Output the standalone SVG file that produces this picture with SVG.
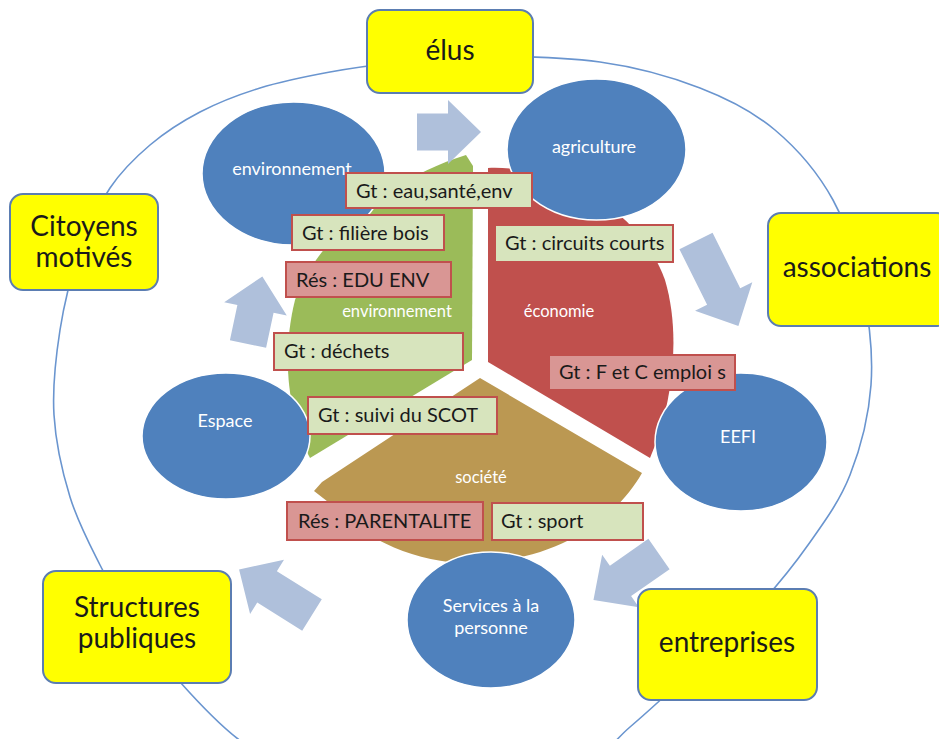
<svg xmlns="http://www.w3.org/2000/svg" width="939" height="739" viewBox="0 0 939 739">
<style>
.ring{fill:none;stroke:#6A95CF;stroke-width:1.6}
.yb{fill:#FFFF00;stroke:#5B7DB2;stroke-width:2}
.yt{font-family:Lato,'Liberation Sans',sans-serif;font-size:28px;fill:#1a1a1a;text-anchor:middle}
.el{fill:#4F81BD;stroke:#ffffff;stroke-width:1.5}
.et{font-family:Lato,'Liberation Sans',sans-serif;font-size:18px;fill:#ffffff;text-anchor:middle}
.lg{fill:#D7E4BD;stroke:#C0504D;stroke-width:2}
.lp{fill:#D99694;stroke:#C0504D;stroke-width:2}
.lt{font-family:Lato,'Liberation Sans',sans-serif;font-size:20px;fill:#1a1a1a}
.st{font-family:Lato,'Liberation Sans',sans-serif;font-size:16.5px;fill:#ffffff;text-anchor:middle}
.ar{fill:#AFC0DB}
</style>

<g id="ring">
<path class="ring" d="M470,56 C503.3,56 561.7,56.7 600,62 C638.3,67.3 670.8,76.7 700,88 C729.2,99.3 752.8,111.3 775,130 C797.2,148.7 818.3,173.3 833,200 C847.7,226.7 856.7,259.2 863,290 C869.3,320.8 873.2,354.2 871,385 C868.8,415.8 860.5,448.3 850,475 C839.5,501.7 823.8,522.5 808,545 C792.2,567.5 773.8,589.5 755,610 C736.2,630.5 715.8,648.5 695,668 C674.2,687.5 650.8,709.2 630,727 C609.2,744.8 601.7,762.8 570,775 C538.3,787.2 485,800 440,800 C395,800 333.7,785.2 300,775 C266.3,764.8 258,754.5 238,739 C218,723.5 197.7,701.8 180,682 C162.3,662.2 145.3,639.5 132,620 C118.7,600.5 110.3,585.5 100,565 C89.7,544.5 77.7,522 70,497 C62.3,472 55.7,442.8 54,415 C52.3,387.2 55.7,357.5 60,330 C64.3,302.5 71.7,273.7 80,250 C88.3,226.3 98.3,205.5 110,188 C121.7,170.5 135,157.7 150,145 C165,132.3 181.7,121.5 200,112 C218.3,102.5 238.3,94.7 260,88 C281.7,81.3 306.7,76.3 330,72 C353.3,67.7 376.7,64.7 400,62 C423.3,59.3 436.7,56 470,56 Z"/>
</g>

<g id="seg-environnement">
<path fill="#9BBB59" d="M472,360 L473,166 L466,155 C400,175 320,230 295,300 C280,360 290,420 310,458 Z"/>
<text class="st" x="397" y="317">environnement</text>
</g>
<g id="seg-economie">
<path fill="#C0504D" d="M488,362 L488,168 C560,165 640,210 665,280 C680,330 675,400 650,458 Z"/>
<text class="st" x="559" y="317">économie</text>
</g>
<g id="seg-societe">
<path fill="#BB9852" d="M480,378 L642,473 C615,520 560,558 480,563 C420,566 365,540 332,505 L314,491 L322,482 Z"/>
<text class="st" x="481" y="483">société</text>
</g>

<g id="connectors">
<path class="ar" transform="translate(417,132)" d="M0,-18.5 H31 V-32 L64,0 L31,32 V18.5 H0 Z"/>
<path class="ar" transform="translate(696,241) rotate(63.5)" d="M0,-18.5 H62 V-32 L95,0 L62,32 V18.5 H0 Z"/>
<path class="ar" transform="translate(659,554) rotate(145)" d="M0,-18.5 H47 V-32 L80,0 L47,32 V18.5 H0 Z"/>
<path class="ar" transform="translate(312,615) rotate(212)" d="M0,-18.5 H53 V-32 L86,0 L53,32 V18.5 H0 Z"/>
<path class="ar" transform="translate(248,344) rotate(-78)" d="M0,-18.5 H36 V-32 L69,0 L36,32 V18.5 H0 Z"/>
</g>

<g id="node-environnement">
<ellipse class="el" cx="293.5" cy="173.5" rx="91.5" ry="71.5"/>
<text class="et" x="292" y="175">environnement</text>
</g>
<g id="node-agriculture">
<ellipse class="el" cx="596.5" cy="149.5" rx="89.5" ry="70.5"/>
<text class="et" x="594" y="153">agriculture</text>
</g>
<g id="node-eefi">
<ellipse class="el" cx="741" cy="442" rx="86" ry="69"/>
<text class="et" x="738" y="443">EEFI</text>
</g>
<g id="node-espace">
<ellipse class="el" cx="226" cy="436" rx="84" ry="63"/>
<text class="et" x="225" y="427">Espace</text>
</g>
<g id="node-services">
<ellipse class="el" cx="491" cy="620" rx="84" ry="68"/>
<text class="et" x="491" y="612">Services à la</text>
<text class="et" x="491" y="634">personne</text>
</g>

<g id="label-eau">
<rect class="lg" x="346" y="173" width="186" height="35"/>
<text class="lt" x="356" y="197.5">Gt : eau,santé,env</text>
</g>
<g id="label-bois">
<rect class="lg" x="292" y="215" width="152" height="35"/>
<text class="lt" x="302" y="239.5">Gt : filière bois</text>
</g>
<g id="label-eduenv">
<rect class="lp" x="286" y="262" width="165" height="35"/>
<text class="lt" x="296" y="286.5">Rés : EDU ENV</text>
</g>
<g id="label-dechets">
<rect class="lg" x="274" y="333" width="189" height="37"/>
<text class="lt" x="284" y="358">Gt : déchets</text>
</g>
<g id="label-scot">
<rect class="lg" x="308" y="397" width="189" height="37"/>
<text class="lt" x="318" y="422">Gt : suivi du SCOT</text>
</g>
<g id="label-circuits">
<rect class="lg" x="495" y="225" width="178" height="37"/>
<text class="lt" x="505" y="250">Gt : circuits courts</text>
</g>
<g id="label-emploi">
<rect class="lp" x="549" y="355" width="186" height="35"/>
<text class="lt" x="559" y="379">Gt : F et C emploi s</text>
</g>
<g id="label-parentalite">
<rect class="lp" x="287" y="502" width="196" height="38"/>
<text class="lt" x="298" y="528">Rés : PARENTALITE</text>
</g>
<g id="label-sport">
<rect class="lg" x="492" y="503" width="151" height="37"/>
<text class="lt" x="501" y="528">Gt : sport</text>
</g>

<g id="box-elus">
<rect class="yb" x="367" y="10" width="166" height="83" rx="13"/>
<text class="yt" x="450" y="60">élus</text>
</g>
<g id="box-citoyens">
<rect class="yb" x="10" y="194" width="148" height="96" rx="13"/>
<text class="yt" x="84" y="236">Citoyens</text>
<text class="yt" x="84" y="267">motivés</text>
</g>
<g id="box-associations">
<rect class="yb" x="768" y="213" width="182" height="113" rx="13"/>
<text class="yt" x="857" y="277">associations</text>
</g>
<g id="box-structures">
<rect class="yb" x="43" y="571" width="188" height="112" rx="13"/>
<text class="yt" x="137" y="617">Structures</text>
<text class="yt" x="137" y="648">publiques</text>
</g>
<g id="box-entreprises">
<rect class="yb" x="638" y="589" width="179" height="111" rx="13"/>
<text class="yt" x="727" y="652">entreprises</text>
</g>
</svg>
